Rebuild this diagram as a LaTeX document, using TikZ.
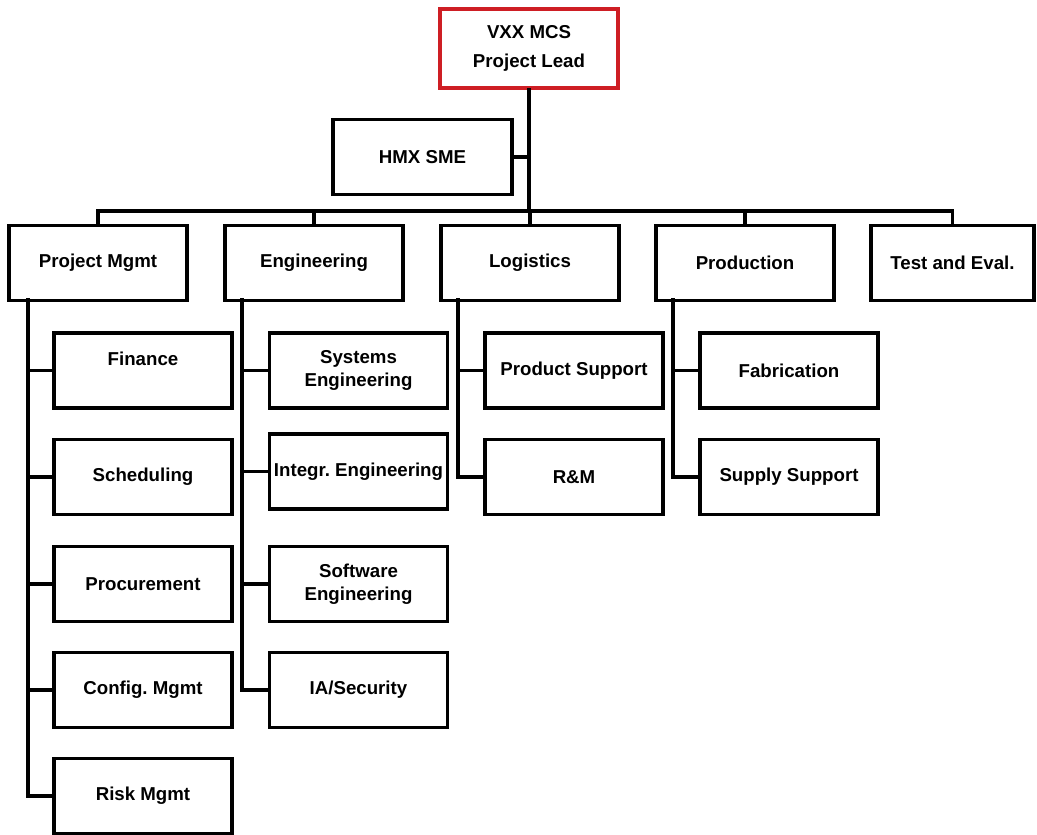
\documentclass[tikz,border=0pt]{standalone}
\usepackage{fontspec}
\setmainfont{Liberation Sans}
\frenchspacing
\definecolor{leadred}{RGB}{206,30,36}
\begin{document}
\begin{tikzpicture}[x=0.75pt,y=-0.75pt,
  unit/.style={draw=black, line width=2.5pt, fill=white, inner sep=0pt,
    minimum width=133.5pt, minimum height=56.25pt, align=center,
    font=\fontsize{14}{17}\selectfont\bfseries},
  leadbox/.style={unit, draw=leadred, line width=2.8pt, minimum height=59.25pt},
  link/.style={line width=2.5pt, line cap=rect}]
\useasboundingbox (0,0) rectangle (1037,834);

% top of the chart
\node[leadbox] (lead) at (529,48.5) {VXX MCS\\[5pt]Project Lead};
\node[unit, minimum width=134.25pt] (hmx) at (422.5,157) {HMX SME};

% department row
\node[unit] (pm)   at (98,263)  {Project Mgmt};
\node[unit] (eng)  at (314,263) {Engineering};
\node[unit] (log)  at (530,263) {Logistics};
\node[unit] (prod) at (745,263) {Production};
\node[unit, minimum width=122.25pt] (te) at (952.5,263) {Test and Eval.};

% horizontal bus
\coordinate (busL) at (98,211);
\coordinate (busR) at (952.5,211);
\draw[link] (busL) -- (busR);
\draw[link] (lead.south) -- (lead.south |- busL);
\draw[link] (hmx.east) -- (hmx.east -| lead.south);
\foreach \d in {pm,eng,log,prod,te}
  \draw[link] (\d.north) -- (\d.north |- busL);

% Project Mgmt column
\node[unit] (fin)  at (143,370.5) {Finance\\~};
\node[unit] (sch)  at (143,477)   {Scheduling};
\node[unit] (proc) at (143,584)   {Procurement};
\node[unit] (cfg)  at (143,690)   {Config. Mgmt};
\node[unit] (risk) at (143,796)   {Risk Mgmt};
\coordinate (pmS) at (28,300);
\draw[link] (pmS) |- (risk.west);
\foreach \c in {fin,sch,proc,cfg}
  \draw[link] (\c.west) -- (\c.west -| pmS);

% Engineering column
\node[unit] (sys)  at (358.5,370.5) {Systems\\Engineering};
\node[unit] (intg) at (358.5,471.5) {Integr. Engineering};
\node[unit] (sw)   at (358.5,584)   {Software\\Engineering};
\node[unit] (ia)   at (358.5,690)   {IA/Security};
\coordinate (engS) at (242,300);
\draw[link] (engS) |- (ia.west);
\foreach \c in {sys,intg,sw}
  \draw[link] (\c.west) -- (\c.west -| engS);

% Logistics column
\node[unit] (ps) at (574,370.5) {Product Support};
\node[unit] (rm) at (574,477)   {R\&M};
\coordinate (logS) at (458,300);
\draw[link] (logS) |- (rm.west);
\draw[link] (ps.west) -- (ps.west -| logS);

% Production column
\node[unit] (fab) at (789,370.5) {Fabrication};
\node[unit] (sup) at (789,477)   {Supply Support};
\coordinate (prodS) at (673,300);
\draw[link] (prodS) |- (sup.west);
\draw[link] (fab.west) -- (fab.west -| prodS);
\end{tikzpicture}
\end{document}
